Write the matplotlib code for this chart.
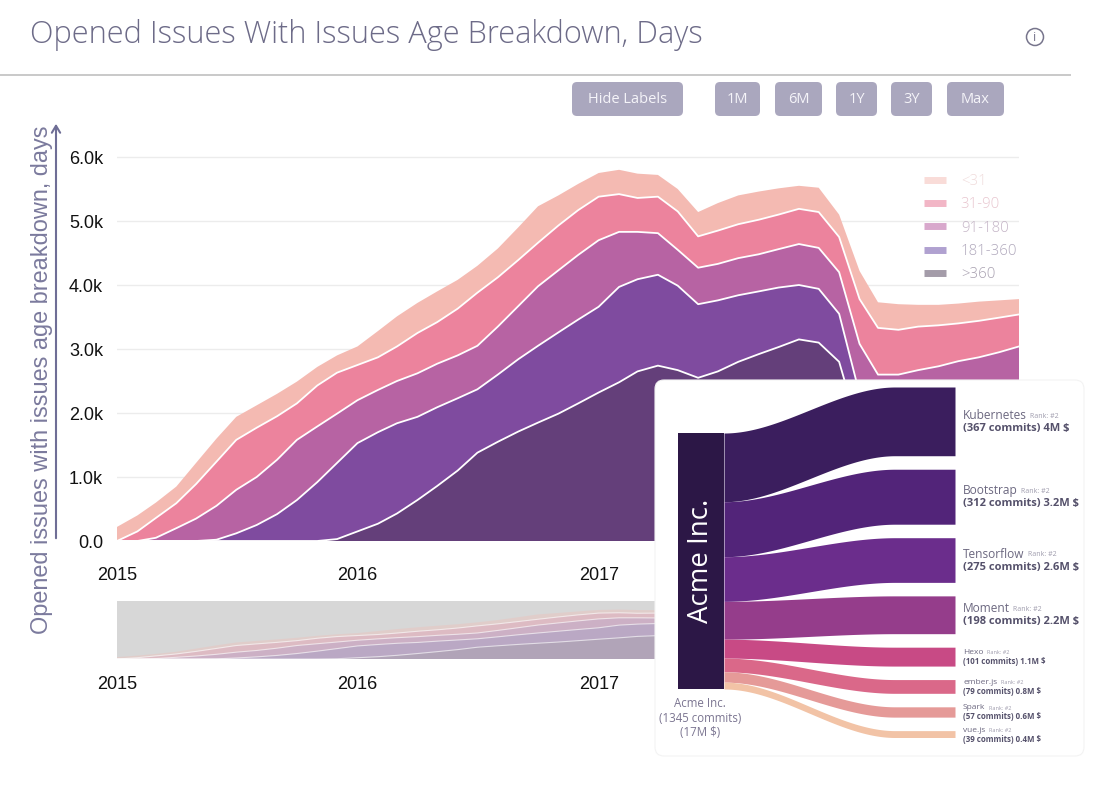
import numpy as np
import pandas as pd
import matplotlib
matplotlib.use("Agg")
import matplotlib.pyplot as plt
from matplotlib.patches import FancyBboxPatch, Circle, Rectangle
from matplotlib.lines import Line2D

# ---------------- data ----------------
title = "Opened Issues With Issues Age Breakdown, Days"
y_label = "Opened issues with issues age breakdown, days"
months = pd.date_range("2015-01-01", periods=46, freq="MS")
years = ["2015", "2016", "2017", "2018"]
y_ticks = [0, 1000, 2000, 3000, 4000, 5000, 6000]
y_tick_labels = ["0.0", "1.0k", "2.0k", "3.0k", "4.0k", "5.0k", "6.0k"]

# stacked from bottom to top
age_groups = [">360", "181-360", "91-180", "31-90", "<31"]
issues_gt360 = [0, 0, 0, 0, 0, 0, 0, 0, 0, 0, 0, 30, 150, 270, 430, 640, 860, 1100, 1380, 1550,
                1710, 1850, 1990, 2150, 2320, 2480, 2650, 2740, 2670, 2550, 2650, 2800, 2920, 3030,
                3150, 3100, 2800, 1700, 1300, 1200, 1150, 1150, 1170, 1200, 1220, 1250]
issues_181_360 = [0, 0, 0, 0, 0, 20, 120, 250, 420, 640, 920, 1190, 1380, 1430, 1410, 1300, 1230,
                  1130, 990, 1050, 1130, 1200, 1270, 1310, 1340, 1490, 1440, 1420, 1320, 1150, 1110,
                  1040, 980, 930, 850, 840, 750, 600, 550, 550, 600, 630, 660, 680, 720, 750]
issues_91_180 = [0, 0, 50, 200, 350, 530, 680, 750, 850, 940, 870, 770, 670, 660, 660, 680, 680,
                 670, 680, 750, 830, 930, 970, 1010, 1040, 860, 740, 650, 560, 570, 570, 580, 580,
                 600, 640, 640, 650, 780, 750, 850, 920, 950, 980, 990, 1010, 1040]
issues_31_90 = [0, 150, 310, 390, 540, 690, 780, 770, 680, 570, 640, 640, 550, 510, 540, 630, 650,
                730, 830, 770, 720, 680, 700, 700, 680, 590, 530, 570, 600, 490, 520, 530, 540, 540,
                550, 560, 550, 700, 730, 700, 680, 640, 590, 570, 540, 500]
issues_lt31 = [220, 250, 240, 260, 330, 360, 360, 350, 350, 340, 290, 270, 290, 410, 470, 470, 480,
               450, 420, 450, 510, 570, 470, 410, 370, 380, 380, 340, 350, 380, 430, 450, 440, 410,
               360, 380, 350, 440, 400, 400, 340, 320, 310, 300, 270, 240]

buttons = ["Hide Labels", "1M", "6M", "1Y", "3Y", "Max"]

source_name = "Acme Inc."
source_commits = 1345
source_value = "17M"
projects = ["Kubernetes", "Bootstrap", "Tensorflow", "Moment", "Hexo", "ember.js", "Spark", "vue.js"]
commits = [367, 312, 275, 198, 101, 79, 57, 39]
value_musd = [4.0, 3.2, 2.6, 2.2, 1.1, 0.8, 0.6, 0.4]
value_labels = ["4M", "3.2M", "2.6M", "2.2M", "1.1M", "0.8M", "0.6M", "0.4M"]
ranks = [2, 2, 2, 2, 2, 2, 2, 2]

# ---------------- styles ----------------
W, H, DPI = 1106, 794, 100
plt.rcParams["font.family"] = ["Liberation Sans", "DejaVu Sans"]
UI_FONT = ["Open Sans", "DejaVu Sans"]
area_colors = ["#643f7a", "#7f4b9f", "#b763a3", "#ec839d", "#f4bab2"]
legend_handle_colors = ["#a49ca9", "#b0a1d0", "#d8a8cc", "#f2b6c6", "#f9dcd8"]
legend_text_colors = ["#a8a0b0", "#b0a8bc", "#c4b4c6", "#e8c6cf", "#f0dcdc"]
flow_colors = ["#3b1e5e", "#522479", "#6b2d8c", "#953d8b", "#c84a85", "#da6889", "#e59a98", "#f2c3a6"]

fig = plt.figure(figsize=(W / DPI, H / DPI), dpi=DPI, facecolor="white")
renderer = fig.canvas.get_renderer()


def fbox(x0, y0, x1, y1):
    return [x0 / W, 1 - y1 / H, (x1 - x0) / W, (y1 - y0) / H]


def fit(t, target_px, along="width"):
    bb = t.get_window_extent(renderer)
    size = bb.width if along == "width" else bb.height
    t.set_fontsize(t.get_fontsize() * target_px / size)


# ---------------- page chrome ----------------
bg = fig.add_axes([0, 0, 1, 1])
bg.set_xlim(0, W)
bg.set_ylim(H, 0)
bg.axis("off")

tt = bg.text(30, 35, title, fontsize=18, family=UI_FONT, fontweight="light",
             color="#6d6b88", va="center", ha="left")
fit(tt, 676)
bg.plot([0, 1070], [75, 75], color="#c9c9c9", lw=1.4)
bg.add_patch(Circle((1035, 37), 8.5, fill=False, ec="#77758c", lw=1.1))
bg.text(1035, 37.5, "i", ha="center", va="center", fontsize=9, color="#77758c", family=UI_FONT)

button_x = [(572, 683), (715, 760), (775, 822), (836, 877), (891, 932), (947, 1004)]
for lab, (x0, x1) in zip(buttons, button_x):
    bg.add_patch(FancyBboxPatch((x0, 82), x1 - x0, 34, boxstyle="round,pad=0,rounding_size=5",
                                fc="#aaa7be", ec="none"))
    bg.text((x0 + x1) / 2, 99.5, lab, ha="center", va="center", fontsize=10.5,
            color="#f5f4f9", family=UI_FONT)

# y label + arrow
yl = bg.text(42, 380, y_label, rotation=90, ha="center", va="center", fontsize=16,
             color="#7b7a9d")
fit(yl, 510, along="height")
bg.annotate("", xy=(56, 121), xytext=(56, 541),
            arrowprops=dict(arrowstyle="->,head_length=0.5,head_width=0.3", color="#6f6e96", lw=1.5))

# ---------------- main stacked area ----------------
series = np.array([issues_gt360, issues_181_360, issues_91_180, issues_31_90, issues_lt31], float)
cum = np.cumsum(series, axis=0)
year_dates = pd.to_datetime([f"{y}-01-01" for y in years])

ax = fig.add_axes(fbox(117, 141, 1019, 541))
ax.set_zorder(2)
ax.patch.set_visible(False)
ax.stackplot(months, *series, colors=area_colors, lw=0)
for k in range(4):
    ax.plot(months, cum[k], color="white", lw=1.3, solid_joinstyle="round")
ax.set_xlim(months[0], months[-1])
ax.set_ylim(0, 6250)
ax.set_yticks(y_ticks)
ax.set_yticklabels(y_tick_labels)
ax.set_xticks(year_dates)
ax.set_xticklabels(years)
ax.grid(axis="y", color="#ececec", lw=1)
ax.set_axisbelow(True)
for s in ax.spines.values():
    s.set_visible(False)
ax.tick_params(length=0, labelsize=13, labelcolor="#111111")
ax.tick_params(axis="y", pad=10)
ax.tick_params(axis="x", pad=19)

handles = [Line2D([0], [0], color=c, lw=5, solid_capstyle="butt") for c in legend_handle_colors[::-1]]
leg = ax.legend(handles, age_groups[::-1], loc="upper left", bbox_to_anchor=(912 / W, 1 - 162 / H),
                bbox_transform=fig.transFigure, frameon=False, handlelength=1.45,
                handletextpad=1.0, labelspacing=0.55, borderpad=0.3,
                prop={"family": UI_FONT, "size": 10.8, "weight": "light"},
                labelcolor=legend_text_colors[::-1])

# ---------------- navigator ----------------
nav = fig.add_axes(fbox(117, 601, 1019, 659))
nav.set_zorder(2)
nav.set_facecolor("#d7d7d7")
nav.stackplot(months, *series, colors=area_colors, alpha=0.33, lw=0)
for k in range(4):
    nav.plot(months, cum[k], color="white", lw=0.8, alpha=0.6)
nav.set_xlim(months[0], months[-1])
nav.set_ylim(0, 6800)
nav.set_yticks([])
nav.set_xticks(year_dates)
nav.set_xticklabels(years)
for s in nav.spines.values():
    s.set_visible(False)
nav.tick_params(length=0, labelsize=13, labelcolor="#111111", pad=12)

# ---------------- sankey overlay ----------------
sax = fig.add_axes(fbox(655, 380, 1084, 756))
sax.set_zorder(6)
sax.set_xlim(0, 429)
sax.set_ylim(376, 0)
sax.axis("off")
sax.add_patch(FancyBboxPatch((0, 0), 429, 376, boxstyle="round,pad=0,rounding_size=9",
                             fc="white", ec="#f3f3f3", lw=0.8, clip_on=False, zorder=0))

SRC_X0, SRC_X1, SRC_TOP, SRC_H = 23, 69, 53, 256
TGT_X, TGT_TOP, GAP = 300, 7, 13.5
vals = np.array(value_musd)
hgt = vals * SRC_H / vals.sum()
src_top = SRC_TOP + np.concatenate([[0], np.cumsum(hgt)[:-1]])
tgt_top = TGT_TOP + np.concatenate([[0], np.cumsum(hgt + GAP)[:-1]])
xs = np.linspace(SRC_X1, TGT_X, 300)
tt_ = np.clip((xs - SRC_X1) / ((TGT_X - SRC_X1) * 0.74), 0, 1)
ease = tt_ * tt_ * (3 - 2 * tt_)
for i in range(len(projects)):
    top = src_top[i] + (tgt_top[i] - src_top[i]) * ease
    sax.fill_between(xs, top, top + hgt[i], color=flow_colors[i], lw=0, zorder=2)

sax.add_patch(Rectangle((SRC_X0, SRC_TOP), SRC_X1 - SRC_X0, SRC_H, fc="#2c1746", ec="none", zorder=3))
an = sax.text((SRC_X0 + SRC_X1) / 2, SRC_TOP + SRC_H / 2, source_name, rotation=90, color="white",
              ha="center", va="center", fontsize=18, family=UI_FONT, zorder=4)
fit(an, 124, along="height")
sax.text(45, 338, f"{source_name}\n({source_commits} commits)\n({source_value} $)", ha="center",
         va="center", fontsize=8.3, color="#7b7591", family=UI_FONT, linespacing=1.15, zorder=4)

for i, name in enumerate(projects):
    cy = tgt_top[i] + hgt[i] / 2
    big = i < 4
    fs1, fs2, fsr = (8.6, 8.0, 5.0) if big else (6.0, 5.7, 4.0)
    d1, d2 = (-6, 7) if big else (-4, 5)
    nt = sax.text(TGT_X + 8, cy + d1, name, ha="left", va="center", fontsize=fs1,
                  color="#6c6880", family=UI_FONT, zorder=4)
    sax.annotate(f"Rank: #{ranks[i]}", xy=(1, 0.45), xycoords=nt, xytext=(2.5, 0),
                 textcoords="offset points", ha="left", va="center", fontsize=fsr,
                 color="#9f9cad", family=UI_FONT, zorder=4)
    sax.text(TGT_X + 8, cy + d2, f"({commits[i]} commits) {value_labels[i]} $", ha="left",
             va="center", fontsize=fs2, fontweight="bold", color="#55516b", family=UI_FONT, zorder=4)

fig.savefig("out.png", dpi=DPI, facecolor="white")
